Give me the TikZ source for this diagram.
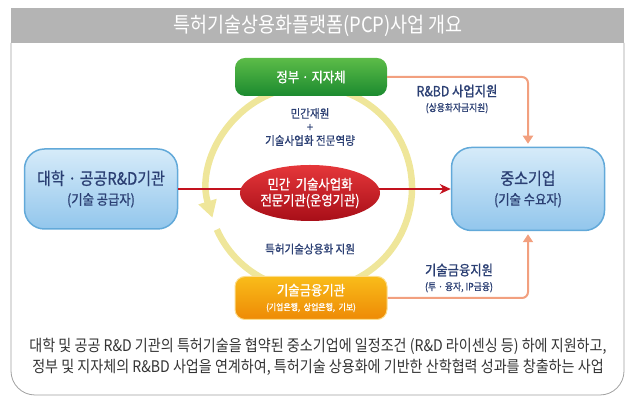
\documentclass[tikz,border=0pt]{standalone}
\usepackage{fontspec}
\setmainfont{Noto Sans CJK KR}[FakeStretch=0.88]
\newfontfamily\medfont{Noto Sans CJK KR}[FakeStretch=0.88, FakeBold=0.8]
\usepackage{tikz}
\usetikzlibrary{positioning, shapes, arrows.meta, calc}

\definecolor{bannergray}{HTML}{B4B4B4}
\definecolor{framegray}{HTML}{A0A0A0}
\definecolor{navy}{HTML}{2B3F73}
\definecolor{blueA}{HTML}{D6EBF9}
\definecolor{blueB}{HTML}{92C6EC}
\definecolor{blueedge}{HTML}{62A9D9}
\definecolor{greenA}{HTML}{5CBC48}
\definecolor{greenB}{HTML}{1B8A2F}
\definecolor{orangeA}{HTML}{F9BC1A}
\definecolor{orangeB}{HTML}{EE8A05}
\definecolor{redA}{HTML}{E5373A}
\definecolor{redB}{HTML}{A80E18}
\definecolor{ringyellow}{HTML}{EFE69A}
\definecolor{salmon}{HTML}{F2A07F}
\definecolor{redline}{HTML}{C3121E}
\definecolor{bodygray}{HTML}{333333}

\begin{document}
\begin{tikzpicture}[x=1pt, y=1pt,
    bluebox/.style={rectangle, rounded corners=20pt, draw=blueedge, line width=1.5pt,
      top color=blueA, bottom color=blueB, minimum width=153pt, align=center, text=navy,
      font=\medfont\fontsize{17}{20}\selectfont},
    colbox/.style={rectangle, rounded corners=10pt, align=center, text=white, minimum width=152pt},
    lbl/.style={align=center, text=navy},
    connector/.style={salmon, line width=2pt, rounded corners=6pt, shorten >=3pt,
      -{Triangle[width=10pt,length=8pt]}}]
  \useasboundingbox (0,0) rectangle (635,406);

  % Frame
  \fill[bannergray] (11,363) rectangle (624,398);
  \draw[framegray, line width=0.8pt, rounded corners=24pt] (11,363) -- (11,11) -- (624,11) -- (624,363);
  \node[text=white, font=\fontsize{21}{23}\selectfont] (title) at (318,380) {특허기술상용화플랫폼(PCP)사업 개요};

  % Ring
  \draw[ringyellow, line width=6.5pt, -{Triangle[width=18pt,length=17pt]}]
    (310,218) ++(204:102) arc[start angle=204, end angle=557, radius=102];

  % Nodes
  \node[bluebox, minimum height=80pt] (univ) at (101,217)
    {대학 · 공공R\&D기관\\{\fontsize{14}{17}\selectfont (기술 공급자)}};
  \node[bluebox, minimum height=83pt] (sme) at (528,217)
    {중소기업\\{\fontsize{14}{17}\selectfont (기술 수요자)}};
  \node[colbox, top color=greenA, bottom color=greenB, minimum height=38pt,
    font=\medfont\fontsize{14}{16}\selectfont] (gov) at (311,329) {정부 · 지자체};
  \node[colbox, top color=orangeA, bottom color=orangeB, draw=orangeA!50, line width=1pt,
    minimum height=43pt, font=\medfont\fontsize{14}{15}\selectfont] (finance) at (311,108)
    {기술금융기관\\{\fontsize{9}{11}\selectfont (기업은행,\ \ 상업은행,\ \ 기보)}};

  % Arrows
  \draw[redline, line width=1.6pt, -{Stealth[length=11pt,width=10pt]}] (univ) -- (sme);
  \node[ellipse, top color=redA, bottom color=redB, minimum width=134pt, minimum height=56pt,
    inner sep=0pt, align=center, text=white, font=\medfont\fontsize{14}{16}\selectfont] (agency) at (310,213)
    {민간\ \ 기술사업화\\전문기관(운영기관)};
  \draw[connector] (gov.east) -| (sme.north);
  \draw[connector] (finance.east) -| (sme.south);

  % Labels
  \node[lbl, font=\medfont\fontsize{12}{13.5}\selectfont] (fund) at (310,279) {민간재원\\+\\기술사업화 전문역량};
  \node[lbl, font=\medfont\fontsize{12}{14}\selectfont] (support) at (310,157) {특허기술상용화 지원};
  \node[lbl, font=\medfont\fontsize{14}{15}\selectfont] (rbd) at (457,307)
    {R\&BD 사업지원\\{\fontsize{10}{12}\selectfont (상용화자금지원)}};
  \node[lbl, font=\medfont\fontsize{14}{15}\selectfont] (fin) at (459,128)
    {기술금융지원\\{\fontsize{10}{12}\selectfont (투 · 융자, IP금융)}};
  \node[align=center, text=bodygray, font=\fontsize{16}{21}\selectfont] (desc) at (318,49)
    {대학 및 공공 R\&D 기관의 특허기술을 협약된 중소기업에 일정조건 (R\&D 라이센싱 등) 하에 지원하고,\\
     정부 및 지자체의 R\&BD 사업을 연계하여, 특허기술 상용화에 기반한 산학협력 성과를 창출하는 사업};
\end{tikzpicture}
\end{document}
